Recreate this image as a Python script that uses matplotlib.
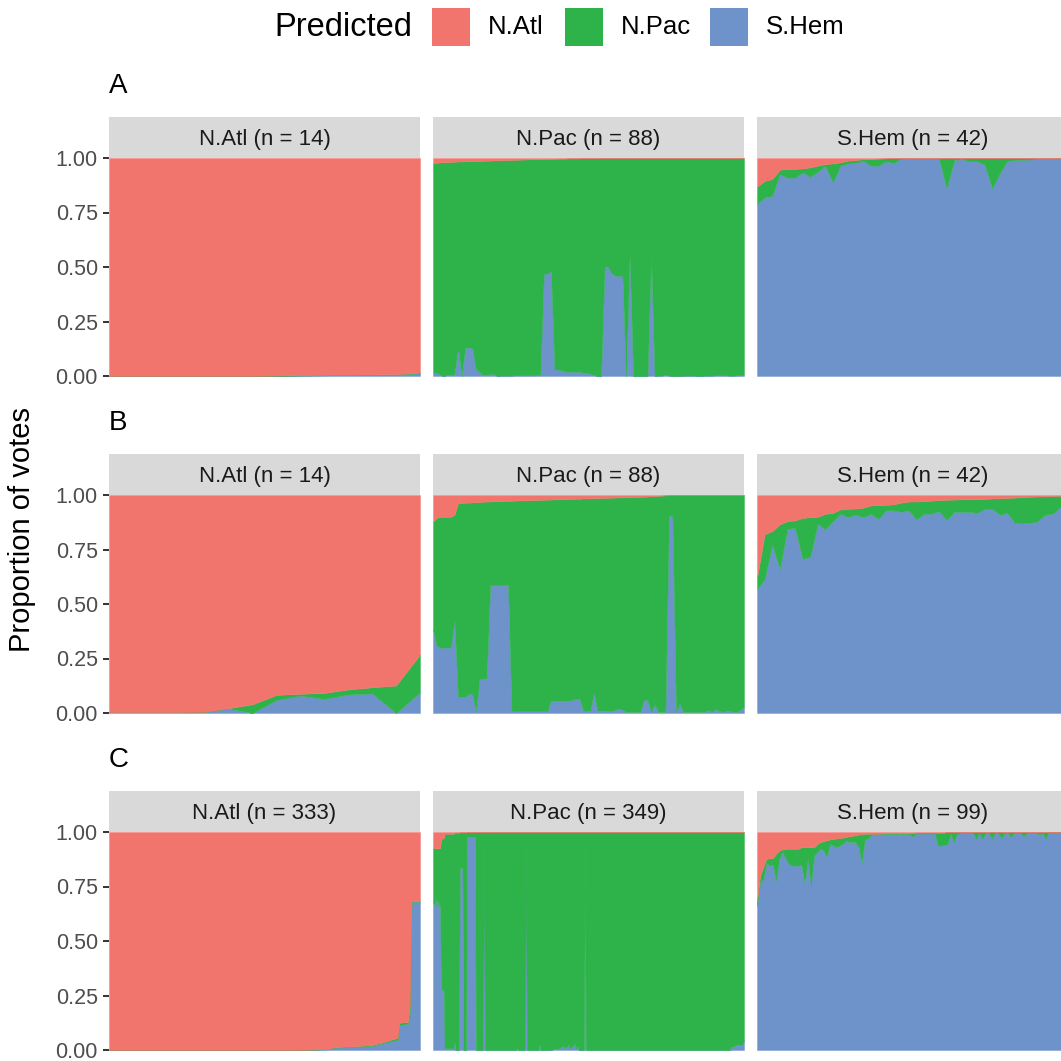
import numpy as np
import matplotlib.pyplot as plt
from matplotlib.patches import Rectangle

plt.rcParams['font.family'] = ['Liberation Sans', 'DejaVu Sans']

# colours of the three predicted groups
col_natl = '#F2756D'
col_npac = '#2EB34B'
col_shem = '#6E93CB'

groups = ['N.Atl', 'N.Pac', 'S.Hem']
row_tags = ['A', 'B', 'C']
strip_titles = [
    ['N.Atl (n = 14)', 'N.Pac (n = 88)', 'S.Hem (n = 42)'],
    ['N.Atl (n = 14)', 'N.Pac (n = 88)', 'S.Hem (n = 42)'],
    ['N.Atl (n = 333)', 'N.Pac (n = 349)', 'S.Hem (n = 99)'],
]

# ---- A : proportion of votes per sample (blue = S.Hem, red = N.Atl, green = rest)
a1_shem = [0, 0, 0, 0, 0, 0, 0, 0, 0.002, 0.003, 0.004, 0.005, 0.006, 0.012]
a1_natl = [1, 1, 1, 1, 1, 1, 1, 0.998, 0.996, 0.995, 0.994, 0.993, 0.992, 0.985]

a2_shem = [0.015, 0.015, 0.005, 0.0, 0.005, 0.005, 0.01, 0.13, 0.0, 0.13,
           0.13, 0.13, 0.03, 0.02, 0.005, 0.005, 0.01, 0.01, 0.0, 0.002,
           0.002, 0.002, 0.002, 0.003, 0.003, 0.003, 0.003, 0.003, 0.003, 0.003,
           0.005, 0.47, 0.47, 0.48, 0.03, 0.03, 0.025, 0.02, 0.02, 0.02,
           0.02, 0.02, 0.015, 0.015, 0.01, 0.005, 0.0, 0.0, 0.50, 0.50,
           0.47, 0.46, 0.46, 0.46, 0.0, 0.56, 0.0, 0.0, 0.0, 0.0,
           0.0, 0.56, 0.0, 0.002, 0.002, 0.005, 0.002, 0.0, 0.0, 0.0,
           0.002, 0.002, 0.002, 0.002, 0.0, 0.0, 0.002, 0.002, 0.002, 0.003,
           0.003, 0.003, 0.003, 0.002, 0.002, 0.003, 0.003, 0.004]
a2_natl = [0.025, 0.022, 0.02, 0.019, 0.018, 0.018, 0.017, 0.016, 0.016, 0.015,
           0.015, 0.014, 0.014, 0.013, 0.013, 0.012, 0.012, 0.011, 0.011, 0.01,
           0.01, 0.009, 0.009, 0.008, 0.008, 0.007, 0.007, 0.006, 0.006, 0.005,
           0.005, 0.005, 0.004, 0.004, 0.004, 0.003, 0.003, 0.003, 0.002, 0.002,
           0.002, 0.002, 0.001, 0.001, 0.001, 0.001, 0, 0, 0, 0,
           0, 0, 0, 0, 0, 0, 0, 0, 0, 0,
           0, 0, 0, 0, 0, 0, 0, 0, 0, 0,
           0, 0, 0, 0, 0, 0, 0, 0, 0, 0,
           0, 0, 0, 0, 0, 0, 0, 0]

a3_shem = [0.788, 0.82, 0.826, 0.926, 0.91, 0.91, 0.934, 0.914, 0.937, 0.965,
           0.888, 0.965, 0.975, 0.977, 0.988, 0.965, 0.965, 0.985, 0.977, 0.998,
           0.995, 0.995, 0.995, 0.995, 0.995, 0.86, 0.99, 0.995, 0.985, 0.985,
           0.97, 0.86, 0.93, 0.988, 0.99, 0.992, 0.993, 0.995, 0.996, 0.997,
           0.998, 0.999]
a3_natl = [0.132, 0.105, 0.097, 0.054, 0.05, 0.05, 0.048, 0.043, 0.035, 0.028,
           0.025, 0.02, 0.012, 0.01, 0.005, 0.005, 0.003, 0.002, 0.001, 0,
           0, 0, 0, 0, 0, 0, 0, 0, 0, 0,
           0, 0, 0, 0, 0, 0, 0, 0, 0, 0,
           0, 0]

# ---- B
b1_shem = [0.004, 0.004, 0.004, 0.004, 0.004, 0.02, 0.0, 0.06, 0.08, 0.065, 0.085, 0.09, 0.0, 0.095]
b1_natl = [0.996, 0.996, 0.996, 0.996, 0.995, 0.978, 0.96, 0.917, 0.912, 0.908, 0.892, 0.882, 0.874, 0.732]

b2_shem = [0.385, 0.31, 0.30, 0.30, 0.30, 0.30, 0.426, 0.075, 0.075, 0.075,
           0.088, 0.088, 0.008, 0.155, 0.158, 0.16, 0.586, 0.586, 0.586, 0.586,
           0.586, 0.586, 0.008, 0.008, 0.008, 0.008, 0.008, 0.008, 0.008, 0.008,
           0.008, 0.008, 0.008, 0.057, 0.057, 0.057, 0.057, 0.057, 0.057, 0.06,
           0.065, 0.065, 0.01, 0.01, 0.01, 0.095, 0.01, 0.01, 0.01, 0.01,
           0.01, 0.015, 0.02, 0.015, 0.005, 0.005, 0.005, 0.005, 0.005, 0.06,
           0.06, 0.005, 0.04, 0.005, 0.005, 0.005, 0.905, 0.905, 0.005, 0.045,
           0.005, 0.005, 0.005, 0.005, 0.005, 0.005, 0.005, 0.014, 0.005, 0.018,
           0.01, 0.005, 0.01, 0.01, 0.005, 0.005, 0.015, 0.03]
b2_natl = [0.123, 0.105, 0.10, 0.10, 0.10, 0.10, 0.09, 0.038, 0.036, 0.035,
           0.035, 0.034, 0.033, 0.032, 0.031, 0.03, 0.03, 0.029, 0.028, 0.028,
           0.027, 0.027, 0.026, 0.026, 0.025, 0.025, 0.024, 0.024, 0.023, 0.023,
           0.022, 0.022, 0.021, 0.021, 0.02, 0.02, 0.019, 0.019, 0.018, 0.018,
           0.017, 0.017, 0.016, 0.016, 0.015, 0.015, 0.014, 0.014, 0.013, 0.013,
           0.012, 0.012, 0.011, 0.011, 0.01, 0.01, 0.009, 0.009, 0.008, 0.008,
           0.007, 0.006, 0.005, 0.004, 0.003, 0.002, 0.001, 0, 0, 0,
           0, 0, 0, 0, 0, 0, 0, 0, 0, 0,
           0, 0, 0, 0, 0, 0, 0, 0]

b3_shem = [0.568, 0.614, 0.772, 0.66, 0.845, 0.85, 0.708, 0.715, 0.868, 0.842,
           0.88, 0.914, 0.898, 0.91, 0.898, 0.914, 0.89, 0.93, 0.93, 0.923,
           0.93, 0.888, 0.914, 0.915, 0.926, 0.885, 0.923, 0.923, 0.923, 0.918,
           0.935, 0.937, 0.91, 0.918, 0.872, 0.87, 0.872, 0.88, 0.91, 0.914,
           0.945, 0.914]
b3_natl = [0.382, 0.18, 0.166, 0.135, 0.12, 0.117, 0.105, 0.102, 0.10, 0.086,
           0.082, 0.066, 0.063, 0.062, 0.058, 0.048, 0.046, 0.045, 0.043, 0.035,
           0.03, 0.03, 0.028, 0.026, 0.023, 0.022, 0.021, 0.02, 0.019, 0.019,
           0.018, 0.016, 0.015, 0.013, 0.012, 0.01, 0.008, 0.007, 0.006, 0.005,
           0.004, 0.003]

# ---- C (large sets: values read at the sample positions where the profile changes)
c1_idx = [0, 200, 235, 240, 280, 292, 303, 308, 310, 319, 321, 323, 331, 332]
c1_shem = [0, 0, 0.003, 0.01, 0.018, 0.03, 0.043, 0.046, 0.115, 0.12, 0.154, 0.68, 0.68, 0.68]
c1_natl = [1, 1, 0.996, 0.988, 0.978, 0.965, 0.95, 0.945, 0.875, 0.872, 0.80, 0.317, 0.317, 0.317]

c2_idx = [0, 1, 2, 3, 4, 5, 6, 7, 8, 9, 12, 13, 23, 24, 25, 29, 30, 33, 34, 37,
          38, 47, 48, 56, 57, 58, 93, 94, 95, 103, 104, 105, 118, 119, 120, 133,
          134, 140, 146, 147, 152, 153, 159, 160, 162, 163, 169, 170, 171, 332,
          333, 337, 338, 346, 348]
c2_shem = [0.68, 0.67, 0.66, 0.70, 0.66, 0.69, 0.66, 0.68, 0.646, 0.277, 0.277, 0.008, 0.008, 0.034, 0.0, 0.0, 0.834, 0.834, 0.0, 0.0,
           0.977, 0.977, 0.0, 0.0, 0.95, 0.0, 0.0, 0.012, 0.0, 0.0, 0.95, 0.0, 0.0, 0.03, 0.0, 0.0,
           0.005, 0.005, 0.02, 0.005, 0.025, 0.005, 0.03, 0.005, 0.02, 0.0, 0.0, 0.95, 0.0, 0.0,
           0.015, 0.015, 0.023, 0.023, 0.046]
c2_natl = [0.074, 0.074, 0.074, 0.074, 0.074, 0.074, 0.074, 0.074, 0.074, 0.03, 0.03, 0.008, 0.008, 0.003, 0.003, 0.003, 0.002, 0.002, 0.002, 0.002,
           0.001, 0.001, 0.001, 0.0, 0.0, 0.0, 0.0, 0.0, 0.0, 0.0, 0.0, 0.0, 0.0, 0.0, 0.0, 0.0,
           0.0, 0.0, 0.0, 0.0, 0.0, 0.0, 0.0, 0.0, 0.0, 0.0, 0.0, 0.0, 0.0, 0.0,
           0.0, 0.0, 0.0, 0.0, 0.0]

c3_shem = [0.66, 0.77, 0.785, 0.86, 0.846, 0.85, 0.777, 0.877, 0.908, 0.88,
           0.854, 0.846, 0.846, 0.846, 0.85, 0.762, 0.877, 0.754, 0.892, 0.908,
           0.923, 0.915, 0.885, 0.946, 0.938, 0.93, 0.938, 0.946, 0.962, 0.954,
           0.954, 0.954, 0.93, 0.86, 0.97, 0.97, 0.985, 0.988,
           0.99, 0.988, 0.992, 0.99, 0.991, 0.99, 0.989, 0.992, 0.99, 0.99,
           0.99, 0.98,
           0.993, 0.993, 0.993, 0.993, 0.993, 0.993, 0.993,
           0.938, 0.938, 0.94, 0.945, 0.992, 0.954, 0.992,
           0.995, 0.995, 0.995, 0.995, 0.995,
           0.97, 0.995, 0.97, 0.995, 0.995, 0.97, 0.995, 0.995, 0.97, 0.995,
           0.995, 0.977, 0.995, 0.995, 0.995, 0.98, 0.995, 0.995, 0.995, 0.995,
           0.988, 0.995, 0.97,
           1, 1, 1, 1, 1, 1, 1]
c3_natl = [0.32, 0.2, 0.16, 0.123, 0.12, 0.12, 0.1, 0.085, 0.08,
           0.077, 0.077, 0.077, 0.077, 0.077,
           0.07, 0.07, 0.07, 0.07, 0.07,
           0.055, 0.046, 0.042, 0.038, 0.034, 0.032, 0.03, 0.028, 0.026, 0.023,
           0.02, 0.018, 0.015, 0.012, 0.01,
           0.008, 0.008, 0.008, 0.008, 0.008, 0.008,
           0.005, 0.005, 0.005, 0.005, 0.005, 0.005, 0.005, 0.005, 0.005, 0.005,
           0.003, 0.003, 0.003, 0.003, 0.003, 0.003, 0.003, 0.003, 0.003, 0.003,
           0, 0, 0, 0, 0, 0, 0, 0, 0, 0, 0, 0, 0, 0, 0, 0, 0, 0, 0, 0,
           0, 0, 0, 0, 0, 0, 0, 0, 0, 0, 0, 0, 0, 0, 0, 0, 0, 0, 0]

panels = [
    [(None, a1_shem, a1_natl), (None, a2_shem, a2_natl), (None, a3_shem, a3_natl)],
    [(None, b1_shem, b1_natl), (None, b2_shem, b2_natl), (None, b3_shem, b3_natl)],
    [(c1_idx, c1_shem, c1_natl), (c2_idx, c2_shem, c2_natl), (None, c3_shem, c3_natl)],
]

W = H = 1061


def px_rect(x0, y0, x1, y1):
    # pixel box (top-left origin) -> figure fraction
    return [x0 / W, 1 - y1 / H, (x1 - x0) / W, (y1 - y0) / H]


fig = plt.figure(figsize=(10.61, 10.61), dpi=100)

col_x = [(109, 420), (433, 744), (757, 1068)]
row_y = [(117, 158, 376), (454, 495, 713), (791, 832, 1050)]  # strip top, panel top, panel bottom

for r in range(3):
    st, pt, pb = row_y[r]
    fig.text(109 / W, 1 - (pt - 72) / H, row_tags[r], fontsize=20, ha='left', va='center', color='black')
    for c in range(3):
        x0, x1 = col_x[c]
        idx, shem, natl = panels[r][c]
        shem = np.array(shem, dtype=float)
        natl = np.array(natl, dtype=float)
        npac = np.clip(1 - shem - natl, 0, 1)
        x = np.arange(len(shem)) if idx is None else np.array(idx)

        ax = fig.add_axes(px_rect(x0, pt, x1, pb))
        ax.stackplot(x, shem, npac, natl, colors=[col_shem, col_npac, col_natl],
                     linewidth=0.3, edgecolor='face')
        ax.set_xlim(x[0], x[-1])
        ax.set_ylim(0, 1)
        for s in ax.spines.values():
            s.set_visible(False)
        ax.set_xticks([])
        if c == 0:
            ax.set_yticks([0, 0.25, 0.5, 0.75, 1.0])
            ax.set_yticklabels(['0.00', '0.25', '0.50', '0.75', '1.00'])
            ax.tick_params(axis='y', length=4, width=1.4, color='#333333',
                           labelcolor='#4d4d4d', labelsize=15.5, pad=4)
        else:
            ax.set_yticks([])

        sax = fig.add_axes(px_rect(x0, st, x1, pt - 0.5))
        sax.set_facecolor('#d9d9d9')
        sax.set_xticks([])
        sax.set_yticks([])
        for s in sax.spines.values():
            s.set_visible(False)
        sax.text(0.5, 0.45, strip_titles[r][c], transform=sax.transAxes,
                 ha='center', va='center', fontsize=16, color='#1a1a1a')

fig.text(22 / W, 1 - 530 / H, 'Proportion of votes', rotation=90, fontsize=21,
         ha='center', va='center')

# legend on top
fig.text(412 / W, 1 - 27 / H, 'Predicted', fontsize=23.5, ha='right', va='center')
key_x = [432, 565, 710]
key_cols = [col_natl, col_npac, col_shem]
for kx, kc, lab in zip(key_x, key_cols, groups):
    fig.patches.append(Rectangle((kx / W, 1 - 46 / H), 38 / W, 38 / H,
                                 transform=fig.transFigure, facecolor=kc, edgecolor='none'))
    fig.text((kx + 56) / W, 1 - 27 / H, lab, fontsize=18.5, ha='left', va='center')

fig.savefig('out.png', dpi=100)
